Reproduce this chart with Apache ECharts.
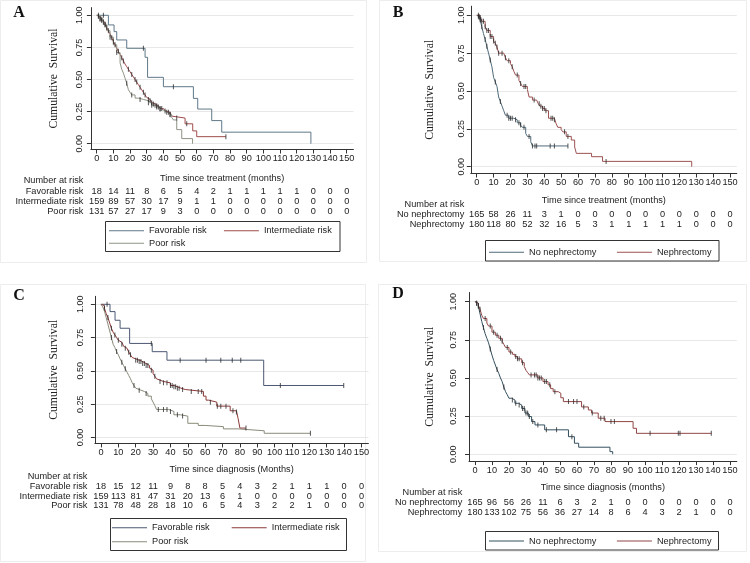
<!DOCTYPE html>
<html><head><meta charset="utf-8">
<script src="https://cdn.jsdelivr.net/npm/echarts@6/dist/echarts.min.js"></script>
<style>html,body{margin:0;padding:0;background:#fff}#c{width:750px;height:563px}</style>
</head><body><div id="c"></div>
<script>
// ---------- shared ticks ----------
const months = [0,10,20,30,40,50,60,70,80,90,100,110,120,130,140,150];
const yTickValues = [0,0.25,0.5,0.75,1];

// ---------- Panel A : time since treatment, by risk ----------
const aFavorable = [[0,1],[7,0.925],[10.4,0.873],[12,0.808],[18,0.743],[29,0.673],[30.5,0.517],[40,0.444],[58,0.353],[60.6,0.27],[69,0.18],[75,0.09],[128.5,0]];
const aIntermediate = [[0,1],[1,0.99],[2,0.975],[3,0.96],[4,0.945],[5,0.925],[6,0.905],[7,0.88],[8,0.855],[9,0.825],[10,0.795],[11,0.77],[12,0.745],[13,0.72],[14,0.695],[15,0.67],[16,0.645],[17,0.62],[18,0.6],[19,0.58],[20,0.56],[21,0.54],[22,0.52],[23,0.5],[24,0.48],[25,0.46],[26,0.44],[27,0.42],[28,0.4],[29,0.38],[30,0.36],[31,0.345],[32,0.335],[33,0.32],[34,0.31],[35,0.3],[36,0.295],[37,0.285],[38,0.275],[40,0.265],[41,0.255],[42,0.245],[44,0.23],[45,0.215],[46,0.2],[53,0.155],[57.6,0.1],[60,0.055],[77.5,0.055]];
const aPoor = [[0,1],[2,0.97],[4,0.93],[6,0.88],[8,0.83],[10,0.77],[12,0.71],[14,0.63],[15,0.58],[16,0.55],[17,0.51],[18,0.47],[19,0.42],[20,0.4],[21,0.38],[23,0.355],[25,0.345],[28,0.335],[31,0.32],[33,0.3],[35,0.285],[37,0.27],[39,0.255],[41,0.24],[43,0.225],[45,0.205],[46,0.185],[48,0.11],[51,0.04],[57.5,0]];
const aFavorableCens = [4,28,46];
const aIntermediateCens = [1,2,3,4,5,6,7,9,10,11,13,15,16,19,21,23,24,26,28,29,31,32,33,34,35,36,37,38,39,41,42,43,44,48,54,77.5];
const aPoorCens = [1,2,3,5,8,12,18,21,26,31,33,36,38,44];
const aRiskFavorable = [18,14,11,8,6,5,4,2,1,1,1,1,1,0,0,0];
const aRiskIntermediate = [159,89,57,30,17,9,1,1,0,0,0,0,0,0,0,0];
const aRiskPoor = [131,57,27,17,9,3,0,0,0,0,0,0,0,0,0,0];

// ---------- Panel B : time since treatment, by nephrectomy ----------
const bNoNeph = [[0,1],[1,0.99],[2,0.97],[3,0.925],[4,0.88],[5,0.84],[6,0.795],[7,0.75],[8,0.705],[9,0.66],[10,0.59],[11,0.56],[12,0.53],[13,0.46],[14,0.43],[15,0.4],[16,0.37],[17,0.34],[19,0.32],[22,0.31],[24,0.29],[26,0.275],[27,0.26],[29,0.22],[30,0.2],[32,0.165],[33,0.137],[54,0.137]];
const bNeph = [[0,1],[2,0.985],[3,0.96],[5,0.925],[6,0.9],[8,0.86],[10,0.83],[11,0.815],[12,0.79],[13,0.75],[16,0.74],[17,0.72],[18,0.7],[20,0.68],[21,0.66],[22,0.63],[23,0.605],[25,0.57],[26,0.55],[27,0.53],[30,0.51],[31,0.46],[33,0.44],[35.5,0.43],[36.5,0.415],[37.5,0.4],[39,0.385],[40.5,0.37],[42.5,0.32],[46,0.31],[47,0.285],[48,0.26],[50,0.245],[51,0.23],[53,0.2],[56,0.176],[58,0.13],[59,0.088],[68,0.066],[74.5,0.035],[127.3,0]];
const bNoNephCens = [1,1.5,2,2.5,3,5,6,8,11,14,18,19,20,21,23,25,26,28,31,33,34.5,35.5,43.5,46,54];
const bNephCens = [1,2,3,4,5,6,7,8,9,10,11,12,13,15,17,19,21,24,26,28,29,34,37,38,39,40,41,44,45,46,52,54,76.6];
const bRiskNoNeph = [165,58,26,11,3,1,0,0,0,0,0,0,0,0,0,0];
const bRiskNeph = [180,118,80,52,32,16,5,3,1,1,1,1,1,0,0,0];

// ---------- Panel C : time since diagnosis, by risk ----------
const cFavorable = [[0,1],[5.2,0.945],[8.1,0.88],[11,0.82],[16.5,0.706],[29.5,0.644],[38,0.58],[93.7,0.39],[139.8,0.39]];
const cIntermediate = [[0,1],[1,0.99],[2,0.97],[3,0.93],[4,0.9],[5,0.86],[6,0.82],[7,0.79],[8,0.77],[9,0.75],[10,0.73],[11,0.715],[12,0.7],[13,0.685],[14,0.67],[15,0.655],[16,0.64],[17,0.62],[18,0.6],[19,0.59],[20,0.58],[22,0.57],[24,0.555],[26,0.54],[28,0.52],[29,0.505],[30,0.48],[31,0.46],[32,0.44],[33,0.43],[34,0.42],[36,0.41],[40,0.39],[42,0.38],[44,0.37],[46,0.36],[48.5,0.345],[59,0.31],[60.5,0.28],[62,0.265],[66.7,0.235],[74.4,0.2],[78,0.19],[79,0.14],[80,0.07],[83.5,0.07]];
const cPoor = [[0,1],[1,0.98],[2,0.95],[3,0.9],[4,0.85],[5,0.8],[6,0.75],[7,0.7],[8,0.675],[9,0.645],[10,0.62],[11,0.59],[12,0.565],[13,0.54],[14,0.515],[15,0.49],[16,0.465],[17,0.44],[18,0.41],[19,0.39],[20,0.37],[21,0.355],[23,0.345],[25,0.33],[27,0.31],[29,0.29],[30,0.265],[31,0.24],[32,0.21],[39,0.195],[42,0.17],[45.6,0.16],[50,0.106],[56,0.09],[60,0.081],[70.5,0.064],[79,0.05],[94,0.031],[120.6,0.031]];
const cFavorableCens = [3.5,29,45.6,60.5,69,75.6,80.5,103.3,139.8];
const cIntermediateCens = [2,4,6,8,10,12,14,16,17,20,21,22,23,24,25,26,27,29,31,34,36,38,40,41,42,43,44,45,47,52,56,58,63,67,69,72,76,78,83.5];
const cPoorCens = [6,9,12,14,19,22,26,33,36,38,40,44,47,120.6];
const cRiskFavorable = [18,15,12,11,9,8,8,5,4,3,2,1,1,1,0,0];
const cRiskIntermediate = [159,113,81,47,31,20,13,6,1,0,0,0,0,0,0,0];
const cRiskPoor = [131,78,48,28,18,10,6,5,4,3,2,2,1,0,0,0];

// ---------- Panel D : time since diagnosis, by nephrectomy ----------
const dNoNeph = [[0,1],[1,0.99],[2,0.97],[3,0.92],[4,0.87],[5,0.83],[6,0.79],[7,0.76],[8,0.73],[9,0.69],[10,0.65],[11,0.615],[12,0.585],[13,0.555],[14,0.53],[15,0.5],[16,0.476],[17,0.44],[18,0.41],[19,0.39],[20,0.367],[21.6,0.356],[23.5,0.334],[25.5,0.323],[27.5,0.3],[29.4,0.27],[31.4,0.247],[33.3,0.214],[35.3,0.192],[41,0.16],[55,0.115],[58.5,0.072],[61,0.046],[79.4,0.017],[81,0]];
const dNeph = [[0,1],[1,0.99],[2,0.975],[3,0.95],[4,0.91],[5,0.89],[7,0.86],[8,0.84],[10,0.8],[12,0.78],[14,0.76],[16,0.74],[17,0.72],[18,0.7],[20,0.67],[22,0.655],[23.5,0.64],[25,0.625],[27.5,0.6],[29,0.575],[30,0.55],[31,0.535],[32,0.52],[37,0.5],[40,0.476],[43,0.455],[44.5,0.43],[46,0.41],[49,0.4],[50.5,0.37],[52,0.345],[62.7,0.31],[66.7,0.29],[68.6,0.27],[72.5,0.236],[76.5,0.214],[93,0.17],[95,0.137],[139,0.137]];
const dNoNephCens = [1,2,5,9,13,17,22,24,26,28,29,30,31,32,34,37,42,48,57];
const dNephCens = [1,2,3,6,9,11,13,15,16,19,21,24,25,26,28,33,35,36,37,38,39,41,42,44,47,55,58,60,64,69,74,76,80,82,103,119.6,120.6,139];
const dRiskNoNeph = [165,96,56,26,11,6,3,2,1,0,0,0,0,0,0,0];
const dRiskNeph = [180,133,102,75,56,36,27,14,8,6,4,3,2,1,0,0];

// ---------- styling / layout ----------
const SANS = '"Liberation Sans", Arial, Helvetica, sans-serif';
const SERIF = '"Liberation Serif", "Times New Roman", serif';
const TXT = '#222';
const AXIS = '#333';
const X_MIN = -3.5, X_MAX = 154, Y_MIN = -0.045, Y_MAX = 1.06;

const panels = [
  { letter:'A', letterPos:[19,13],
    grid:{left:90.9, top:7.6, width:262.5, height:141.9},
    yLabelMargin:11.5, yNameGap:36.9, xTitle:'Time since treatment (months)', xNameGap:28.5,
    rowGap:7.5, headY:180.7,
    curves:[
      {name:'Favorable risk', data:aFavorable, cens:aFavorableCens, color:'#5f7888'},
      {name:'Intermediate risk', data:aIntermediate, cens:aIntermediateCens, color:'#a04c4c'},
      {name:'Poor risk', data:aPoor, cens:aPoorCens, color:'#8e9486'}],
    rows:[{label:'Favorable risk', vals:aRiskFavorable, off:42.2},
          {label:'Intermediate risk', vals:aRiskIntermediate, off:52.2},
          {label:'Poor risk', vals:aRiskPoor, off:62.2}],
    box:[105.5,221.5,234.5,30],
    legendRows:[{names:['Favorable risk','Intermediate risk'], left:109, top:224.7, gap:17.2},
                {names:['Poor risk'], left:109, top:237.3, gap:10}]
  },
  { letter:'B', letterPos:[398,13],
    grid:{left:470.8, top:6.2, width:266, height:167.3},
    yLabelMargin:9.5, yNameGap:40.8, xTitle:'Time since treatment (months)', xNameGap:26.5,
    rowGap:6.5, headY:204,
    curves:[
      {name:'No nephrectomy', data:bNoNeph, cens:bNoNephCens, color:'#4f6a7a'},
      {name:'Nephrectomy', data:bNeph, cens:bNephCens, color:'#9c5252'}],
    rows:[{label:'No nephrectomy', vals:bRiskNoNeph, off:40.8},
          {label:'Nephrectomy', vals:bRiskNeph, off:50.5}],
    box:[485.5,240.5,233.5,20.5],
    legendRows:[{names:['No nephrectomy','Nephrectomy'], left:489, top:246.3, gap:20.5}]
  },
  { letter:'C', letterPos:[19,296],
    grid:{left:94.9, top:296.3, width:273.5, height:147.1},
    yLabelMargin:14, yNameGap:40.6, xTitle:'Time since diagnosis (Months)', xNameGap:25.6,
    rowGap:7.5, headY:476,
    curves:[
      {name:'Favorable risk\u200b', data:cFavorable, cens:cFavorableCens, color:'#4c5872'},
      {name:'Intermediate risk\u200b', data:cIntermediate, cens:cIntermediateCens, color:'#8c3838'},
      {name:'Poor risk\u200b', data:cPoor, cens:cPoorCens, color:'#8a8a7a'}],
    rows:[{label:'Favorable risk', vals:cRiskFavorable, off:42.6},
          {label:'Intermediate risk', vals:cRiskIntermediate, off:52.6},
          {label:'Poor risk', vals:cRiskPoor, off:61.9}],
    box:[110.5,518.5,236,32],
    legendRows:[{names:['Favorable risk\u200b','Intermediate risk\u200b'], left:112, top:521.7, gap:22},
                {names:['Poor risk\u200b'], left:112, top:535.7, gap:10}]
  },
  { letter:'D', letterPos:[398,294],
    grid:{left:469, top:292.5, width:267.8, height:168.6},
    yLabelMargin:15, yNameGap:39, xTitle:'Time since diagnosis (months)', xNameGap:26.2,
    rowGap:6.7, headY:492,
    curves:[
      {name:'No nephrectomy\u200b', data:dNoNeph, cens:dNoNephCens, color:'#34505f'},
      {name:'Nephrectomy\u200b', data:dNeph, cens:dNephCens, color:'#924646'}],
    rows:[{label:'No nephrectomy', vals:dRiskNoNeph, off:41.6},
          {label:'Nephrectomy', vals:dRiskNeph, off:51.6}],
    box:[485.5,531.5,233,18.5],
    legendRows:[{names:['No nephrectomy\u200b','Nephrectomy\u200b'], left:489, top:535, gap:20.5}]
  }
];

// survival value of a step curve at time t (censor marks sit on the curve)
function survAt(curve, t){
  let s = curve[0][1];
  for (const p of curve){ if (p[0] <= t) s = p[1]; else break; }
  return s;
}

const grid = [], xAxis = [], yAxis = [], series = [], legend = [], graphic = [];
const frames = [[0.5,0.5,366,262],[379.5,0.5,367,261],[0.5,284.5,365,277],[378.5,284.5,368,267]];
frames.forEach(f => graphic.push({type:'rect', silent:true, shape:{x:f[0],y:f[1],width:f[2],height:f[3]}, style:{fill:'none', stroke:'#ededed', lineWidth:1}}));

panels.forEach((p, gi) => {
  grid.push(Object.assign({outerBoundsMode:'none', containLabel:false}, p.grid));
  yAxis.push({
    type:'value', gridIndex:gi, min:Y_MIN, max:Y_MAX,
    name:'Cumulative  Survival', nameLocation:'middle', nameRotate:90, nameGap:p.yNameGap,
    nameTextStyle:{fontFamily:SERIF, fontSize:11.7, color:TXT, align:'center', verticalAlign:'middle'},
    axisLine:{show:true, onZero:false, lineStyle:{color:AXIS, width:1}},
    axisTick:{show:true, length:4, customValues:yTickValues, lineStyle:{color:AXIS}},
    axisLabel:{customValues:yTickValues, rotate:90, margin:p.yLabelMargin, align:'center', verticalAlign:'middle',
      fontFamily:SANS, fontSize:9, color:TXT, formatter:v => v.toFixed(2)},
    splitLine:{show:true, lineStyle:{color:'#e8e8e8', width:1}}
  });
  const mainX = xAxis.length;
  xAxis.push({
    type:'value', gridIndex:gi, min:X_MIN, max:X_MAX, position:'bottom',
    name:p.xTitle, nameLocation:'middle', nameGap:p.xNameGap,
    nameTextStyle:{fontFamily:SANS, fontSize:9.2, color:TXT, align:'center', verticalAlign:'middle'},
    axisLine:{show:true, onZero:false, lineStyle:{color:AXIS, width:1}},
    axisTick:{show:true, length:4, customValues:months, lineStyle:{color:AXIS}},
    axisLabel:{customValues:months, margin:9, verticalAlign:'middle', fontFamily:SANS, fontSize:9.2, color:TXT},
    splitLine:{show:false}
  });
  // number-at-risk rows: extra axes sharing the same scale, labels = counts
  p.rows.forEach(r => {
    xAxis.push({
      type:'value', gridIndex:gi, min:X_MIN, max:X_MAX, position:'bottom', offset:r.off,
      name:r.label, nameLocation:'start', nameGap:p.rowGap,
      nameTextStyle:{fontFamily:SANS, fontSize:9.2, color:TXT, align:'right', verticalAlign:'middle'},
      axisLine:{show:false, onZero:false}, axisTick:{show:false}, splitLine:{show:false},
      axisLabel:{customValues:months, margin:0, verticalAlign:'middle', fontFamily:SANS, fontSize:9.2, color:TXT,
        formatter:v => String(r.vals[months.indexOf(Math.round(v))])}
    });
  });
  p.curves.forEach(c => {
    series.push({type:'line', name:c.name, data:c.data, step:'end', symbol:'none', showSymbol:false,
      xAxisIndex:mainX, yAxisIndex:gi, lineStyle:{color:c.color, width:1}, itemStyle:{color:c.color},
      silent:true, z:2});
    series.push({type:'scatter', name:c.name + ' (censored)', data:c.cens.map(t => [t, survAt(c.data, t)]),
      symbol:'rect', symbolSize:[1,5], xAxisIndex:mainX, yAxisIndex:gi,
      itemStyle:{color:'#2a2a2a'}, silent:true, z:3});
  });
  p.legendRows.forEach(lr => legend.push({
    data:lr.names, left:lr.left, top:lr.top, orient:'horizontal', padding:0,
    icon:'rect', itemWidth:35, itemHeight:1, itemGap:lr.gap, selectedMode:false,
    textStyle:{fontFamily:SANS, fontSize:9.2, color:TXT, lineHeight:12}
  }));
  graphic.push({type:'rect', silent:true, shape:{x:p.box[0], y:p.box[1], width:p.box[2], height:p.box[3]},
    style:{fill:'none', stroke:'#333', lineWidth:1}});
  graphic.push({type:'text', silent:true, style:{text:'Number at risk', x:p.grid.left - p.rowGap, y:p.headY,
    align:'right', verticalAlign:'middle', textAlign:'right', textVerticalAlign:'middle',
    font:'9.2px ' + SANS, fill:TXT}});
  graphic.push({type:'text', silent:true, style:{text:p.letter, x:p.letterPos[0], y:p.letterPos[1],
    align:'center', verticalAlign:'middle', textAlign:'center', textVerticalAlign:'middle',
    font:'bold 16px ' + SERIF, fill:'#111'}});
});

const chart = echarts.init(document.getElementById('c'), null, {renderer:'canvas'});
chart.setOption({animation:false, backgroundColor:'#fff', grid, xAxis, yAxis, series, legend, graphic});
</script>
</body></html>
